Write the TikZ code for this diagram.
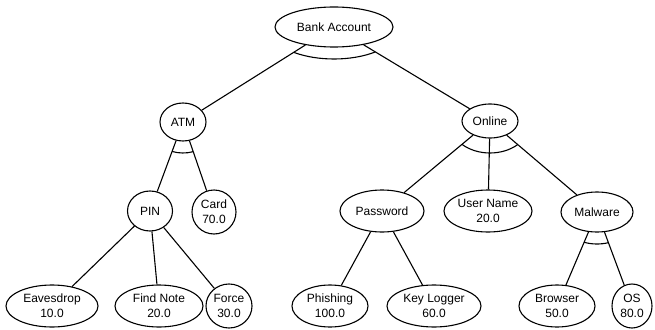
\documentclass[tikz,border=0pt]{standalone}
\usepackage{fontspec}
\setmainfont{Liberation Sans}
\usetikzlibrary{shapes.geometric,calc}

\tikzset{
  goal/.style={draw, ellipse, fill=white, inner sep=0pt, align=center,
    line width=1.1pt, font=\fontsize{12}{15}\selectfont},
  link/.style={line width=1.1pt},
  gate/.style={line width=1.1pt},
}

% AND refinement: elliptical arc around the parent, from the first to the last child edge
\newcommand\andgate[5]{%
  \draw[gate] let \p1=($(#2)-(#1)$), \p2=($(#3)-(#1)$),
    \n1={atan2(\y1/#5,\x1/#4)}, \n2={atan2(\y2/#5,\x2/#4)} in
    ($(#1)+(\n1:#4pt and #5pt)$)
    arc[start angle=\n1, end angle=\n2, x radius=#4pt, y radius=#5pt];}

\begin{document}
\begin{tikzpicture}[x=1pt,y=1pt]
\useasboundingbox (0,0) rectangle (655,-329);

% root and inner nodes
\node[goal, minimum width=118pt, minimum height=40pt] (bank) at (334,-27) {Bank Account};
\node[goal, minimum width=46pt, minimum height=38pt] (atm) at (183,-122) {ATM};
\node[goal, minimum width=56pt, minimum height=34pt] (online) at (490,-121) {Online};
\node[goal, minimum width=45pt, minimum height=40pt] (pin) at (150,-211) {PIN};
\node[goal, minimum width=44pt, minimum height=44pt] (card) at (214,-212) {Card\\70.0};
\node[goal, minimum width=84pt, minimum height=42pt] (password) at (382,-211) {Password};
\node[goal, minimum width=88pt, minimum height=42pt] (username) at (488,-211) {User Name\\20.0};
\node[goal, minimum width=72pt, minimum height=40pt] (malware) at (597,-212) {Malware};

% leaves
\node[goal, minimum width=92pt, minimum height=42pt] (eaves) at (52,-306) {Eavesdrop\\10.0};
\node[goal, minimum width=88pt, minimum height=42pt] (findnote) at (159,-306) {Find Note\\20.0};
\node[goal, minimum width=46pt, minimum height=44pt] (force) at (229,-306) {Force\\30.0};
\node[goal, minimum width=76pt, minimum height=42pt] (phishing) at (330,-306) {Phishing\\100.0};
\node[goal, minimum width=94pt, minimum height=42pt] (keylogger) at (434,-306) {Key Logger\\60.0};
\node[goal, minimum width=76pt, minimum height=42pt] (browser) at (557,-306) {Browser\\50.0};
\node[goal, minimum width=40pt, minimum height=44pt] (os) at (632,-306) {OS\\80.0};

% refinement edges
\draw[link] (bank) -- (atm);
\draw[link] (bank) -- (online);
\draw[link] (atm) -- (pin);
\draw[link] (atm) -- (card);
\draw[link] (online) -- (password);
\draw[link] (online) -- (username);
\draw[link] (online) -- (malware);
\draw[link] (pin) -- (eaves);
\draw[link] (pin) -- (findnote);
\draw[link] (pin) -- (force);
\draw[link] (password) -- (phishing);
\draw[link] (password) -- (keylogger);
\draw[link] (malware) -- (browser);
\draw[link] (malware) -- (os);

% conjunctive refinements
\andgate{bank}{atm}{online}{66}{32}
\andgate{atm}{pin}{card}{35}{31}
\andgate{online}{password}{malware}{41}{32}
\andgate{malware}{browser}{os}{40}{32}
\end{tikzpicture}
\end{document}
